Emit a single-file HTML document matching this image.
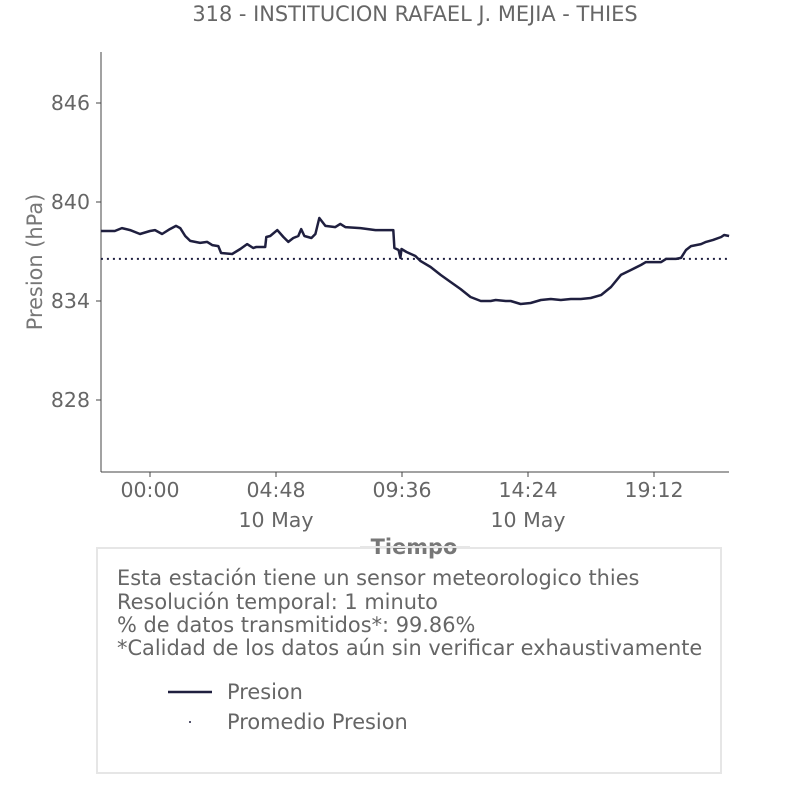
<!DOCTYPE html>
<html><head><meta charset="utf-8"><style>
body{margin:0;background:#fff;width:806px;height:806px;overflow:hidden;font-family:"DejaVu Sans","Liberation Sans",sans-serif}
</style></head><body>
<svg width="806" height="806" style="position:absolute;left:0;top:0" font-family="DejaVu Sans, Liberation Sans, sans-serif">
<text x="415" y="21" text-anchor="middle" font-size="20.9" fill="#666">318 - INSTITUCION RAFAEL J. MEJIA - THIES</text>
<g id="plot"></g>
<text transform="translate(42,262) rotate(-90)" text-anchor="middle" font-size="20.9" fill="#777">Presion (hPa)</text>
<rect x="97" y="548" width="624" height="225" fill="#fff" stroke="#e6e6e6" stroke-width="2"/>
<text x="414" y="554" text-anchor="middle" font-size="20.9" font-weight="bold" fill="#777">Tiempo</text>
<line x1="360" y1="547" x2="470" y2="547" stroke="#e6e6e6" stroke-width="2"/>
<g font-size="20.9" fill="#666">
<text x="117" y="585">Esta estación tiene un sensor meteorologico thies</text>
<text x="117" y="609">Resolución temporal: 1 minuto</text>
<text x="117" y="632">% de datos transmitidos*: 99.86%</text>
<text x="117" y="655">*Calidad de los datos aún sin verificar exhaustivamente</text>
</g>
<g>
<line x1="168" y1="692" x2="212" y2="692" stroke="#1f1f3f" stroke-width="2.5"/>
<text x="227" y="699" font-size="20.9" fill="#666">Presion</text></g>
<g>
<circle cx="190" cy="722" r="1" fill="#1f1f3f"/>
<text x="227" y="729" font-size="20.9" fill="#666">Promedio Presion</text></g>
</svg>
<script>
const hours=[-1.87,-1.34,-1.07,-0.76,-0.38,0,0.19,0.46,0.76,0.99,1.15,1.34,1.53,1.91,2.18,2.37,2.60,2.71,3.13,3.44,3.70,3.93,4.05,4.39,4.43,4.58,4.85,5.08,5.27,5.46,5.65,5.76,5.88,6.15,6.30,6.45,6.68,7.06,7.25,7.44,8.02,8.59,9.16,9.27,9.31,9.47,9.54,9.58,9.77,10.11,10.31,10.69,11.07,11.45,11.83,12.21,12.60,12.98,13.17,13.55,13.74,14.12,14.50,14.89,15.27,15.65,16.03,16.41,16.79,17.18,17.56,17.94,18.32,18.70,18.89,19.08,19.47,19.66,20.04,20.23,20.42,20.61,20.99,21.18,21.45,21.76,21.87,22.06];
const pressure=[838.24,838.24,838.42,838.30,838.06,838.24,838.30,838.06,838.36,838.55,838.42,837.94,837.64,837.52,837.58,837.39,837.33,836.91,836.85,837.15,837.45,837.21,837.27,837.27,837.88,837.94,838.30,837.88,837.58,837.82,837.94,838.36,837.94,837.82,838.06,839.03,838.55,838.48,838.67,838.48,838.42,838.30,838.30,838.30,837.21,837.09,836.61,837.15,836.97,836.73,836.42,836.06,835.58,835.15,834.73,834.24,834.00,834.00,834.06,834.00,834.00,833.82,833.88,834.06,834.12,834.06,834.12,834.12,834.18,834.36,834.85,835.58,835.88,836.18,836.36,836.36,836.36,836.55,836.55,836.61,837.09,837.33,837.45,837.58,837.70,837.88,838.00,837.94];
const meanValue=836.55;
const yTicks=[828,834,840,846];
const xTickHours=[0,4.8,9.6,14.4,19.2];
const xTickLabels=["00:00","04:48","09:36","14:24","19:12"];
const xSubLabels=["","10 May","","10 May",""];
const L=101,R=729,T=52,B=472;
const x=h=>150+h*26.25;
const y=v=>301-(v-834)*16.5;
const NS="http://www.w3.org/2000/svg";
const g=document.getElementById('plot');
function mk(t,a){const e=document.createElementNS(NS,t);for(const k in a)e.setAttribute(k,a[k]);g.appendChild(e);return e;}
let e=mk('line',{x1:L,y1:T,x2:L,y2:B,stroke:'#444','stroke-width':1});


e=mk('line',{x1:L,y1:B,x2:R,y2:B,stroke:'#444','stroke-width':1});


yTicks.forEach(v=>{
 const t=mk('line',{x1:L-5,y1:y(v),x2:L,y2:y(v),stroke:'#444'});
 
 
 const s=mk('text',{x:L-11,y:y(v)+7,'text-anchor':'end','font-size':20.5,fill:'#666'});s.textContent=v;
 
 
});
xTickHours.forEach((h,i)=>{
 const t=mk('line',{x1:x(h),y1:B,x2:x(h),y2:B+5,stroke:'#444'});
 
 
 const s=mk('text',{x:x(h),y:497,'text-anchor':'middle','font-size':20.5,fill:'#666'});s.textContent=xTickLabels[i];
 
 
 if(xSubLabels[i]){const s2=mk('text',{x:x(h),y:527,'text-anchor':'middle','font-size':20.5,fill:'#666'});s2.textContent=xSubLabels[i];
 
 }
});
e=mk('line',{x1:x(hours[0]),y1:y(meanValue),x2:x(hours[hours.length-1]),y2:y(meanValue),stroke:'#1f1f3f','stroke-width':2,'stroke-dasharray':'2,4'});


e=mk('path',{d:hours.map((h,i)=>(i?'L':'M')+x(h).toFixed(1)+','+y(pressure[i]).toFixed(1)).join(''),fill:'none',stroke:'#1f1f3f','stroke-width':2.5,'stroke-linejoin':'round'});


</script>
</body></html>
